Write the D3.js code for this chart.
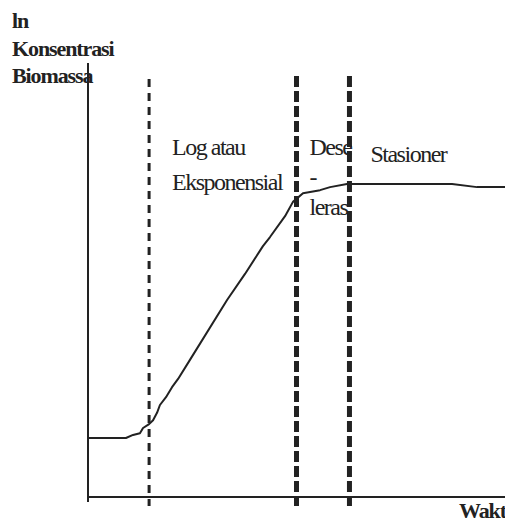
<!DOCTYPE html>
<html>
<head>
<meta charset="utf-8">
<script src="https://cdn.jsdelivr.net/npm/d3@7"></script>
<style>
  html, body { margin: 0; padding: 0; background: #fff; }
  svg { display: block; }
  text { font-family: "Liberation Serif", "Times New Roman", serif; fill: #222; }
</style>
</head>
<body>
<div id="chart"></div>
<script>
// Time (arbitrary units) and ln biomass concentration
const time = [0, 1.82, 2.16, 2.49, 2.64, 2.93, 3.12, 3.31, 3.45, 3.74, 4.03, 4.32, 4.89, 6.67, 7.53, 8.39, 8.73, 9.45, 9.83, 10.31, 11.13, 11.61, 12.42, 17.46, 18.66, 20];
const lnBiomass = [1.36, 1.36, 1.43, 1.47, 1.59, 1.68, 1.77, 1.94, 2.12, 2.30, 2.53, 2.72, 3.16, 4.54, 5.14, 5.78, 5.99, 6.47, 6.80, 7.00, 7.07, 7.14, 7.21, 7.21, 7.14, 7.14];
// Phase boundaries (time) and their style
const boundaries = [2.93, 10.0, 12.54];
const boundaryHeavy = [false, true, true];
const phaseLabels = [["Log atau", "Eksponensial"], ["Dese", "-", "leras"], ["Stasioner"]];
const yAxisTitle = ["ln", "Konsentrasi", "Biomassa"];
const xAxisTitle = "Waktu";

const W = 505, H = 519;
const svg = d3.select("#chart").append("svg").attr("width", W).attr("height", H);

const x = d3.scaleLinear().domain([0, 20]).range([88, 505]);
const y = d3.scaleLinear().domain([0, 10]).range([497, 63]);

const ink = "#222";

// Y axis line
svg.append("line").attr("x1", x(0)).attr("x2", x(0)).attr("y1", y(10)).attr("y2", y(0) + 5)
  .attr("stroke", ink).attr("stroke-width", 2);
// X axis line
svg.append("line").attr("x1", x(0)).attr("x2", W).attr("y1", y(0)).attr("y2", y(0))
  .attr("stroke", ink).attr("stroke-width", 2);

// Phase boundaries
boundaries.forEach((b, i) => {
  const heavy = boundaryHeavy[i];
  svg.append("line")
    .attr("x1", x(b)).attr("x2", x(b))
    .attr("y1", heavy ? 76 : 79).attr("y2", y(0) + 9)
    .attr("stroke", ink)
    .attr("stroke-width", heavy ? 5 : 3)
    .attr("stroke-dasharray", heavy ? "11,4" : "8,6");
});

// Growth curve
const line = d3.line().x((d, i) => x(time[i])).y((d, i) => y(lnBiomass[i])).curve(d3.curveLinear);
svg.append("path").datum(lnBiomass).attr("d", line)
  .attr("fill", "none").attr("stroke", ink).attr("stroke-width", 2).attr("stroke-linejoin", "round");

// Y axis title
yAxisTitle.forEach((t, i) => {
  svg.append("text").attr("x", 12).attr("y", 28 + i * 27.5)
    .attr("font-size", 22).attr("font-weight", "bold").attr("letter-spacing", -1.1)
    .text(t);
});

// X axis title (clipped at the right edge)
svg.append("text").attr("x", 459).attr("y", 518)
  .attr("font-size", 22).attr("font-weight", "bold").attr("letter-spacing", -1.1)
  .text(xAxisTitle);

// Phase labels
const labelStyle = sel => sel.attr("font-size", 24).attr("letter-spacing", -1.5);
phaseLabels[0].forEach((t, i) => {
  svg.append("text").attr("x", x(boundaries[0]) + 23).attr("y", 155 + i * 35).call(labelStyle).text(t);
});
phaseLabels[1].forEach((t, i) => {
  svg.append("text").attr("x", x(boundaries[1]) + 13).attr("y", 155 + i * 30).call(labelStyle).text(t);
});
phaseLabels[2].forEach((t, i) => {
  svg.append("text").attr("x", x(boundaries[2]) + 21).attr("y", 162 + i * 30).call(labelStyle).text(t);
});
</script>
</body>
</html>
